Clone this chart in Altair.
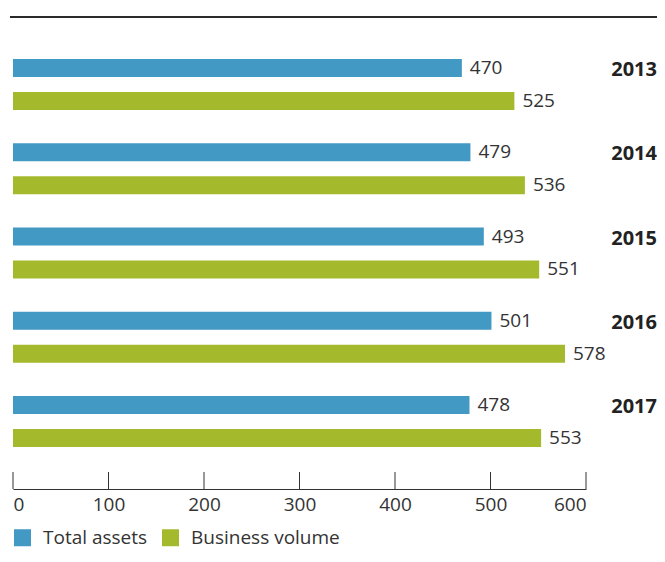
import altair as alt
import pandas as pd

years = ["2013", "2014", "2015", "2016", "2017"]
total_assets = [470, 479, 493, 501, 478]
business_volume = [525, 536, 551, 578, 553]
series_names = ["Total assets", "Business volume"]
series_colors = ["#4299c4", "#a4b92c"]
tick_values = [0, 100, 200, 300, 400, 500, 600]

rows = []
for y, a, b in zip(years, total_assets, business_volume):
    rows.append({"year": y, "series": series_names[0], "value": a})
    rows.append({"year": y, "series": series_names[1], "value": b})
df = pd.DataFrame(rows)
df_years = pd.DataFrame({"year": years, "series": [series_names[0]] * len(years)})
df_ticks = pd.DataFrame({"t": tick_values})

FONT = "Open Sans"
TXT = "#333333"
W, H = 573, 472

y_enc = alt.Y("year:N", sort=years, axis=None,
              scale=alt.Scale(paddingInner=0, paddingOuter=0.3))
yoff_enc = alt.YOffset("series:N", sort=series_names,
                       scale=alt.Scale(paddingInner=0.4545, paddingOuter=0.5045))
x_scale = alt.Scale(domain=[0, 600], nice=False)

bars = alt.Chart(df).mark_bar().encode(
    x=alt.X("value:Q", scale=x_scale,
            axis=alt.Axis(values=tick_values, title=None, grid=False, ticks=False,
                          domainColor=TXT, domainWidth=1.2, labelFontSize=19,
                          labelFont=FONT, labelColor=TXT, labelPadding=6)),
    y=y_enc,
    yOffset=yoff_enc,
    color=alt.Color("series:N", sort=series_names,
                    scale=alt.Scale(domain=series_names, range=series_colors),
                    legend=alt.Legend(orient="none", legendX=0, legendY=511,
                                      direction="horizontal", title=None,
                                      symbolType="square", symbolSize=289,
                                      symbolStrokeWidth=0, labelFontSize=19,
                                      labelFont=FONT, labelColor=TXT,
                                      labelOffset=11, columnPadding=13)),
)

values = alt.Chart(df).mark_text(align="left", baseline="middle", dx=8,
                                 fontSize=19, font=FONT, color=TXT).encode(
    x=alt.X("value:Q", scale=x_scale),
    y=y_enc,
    yOffset=yoff_enc,
    text=alt.Text("value:Q"),
)

year_labels = alt.Chart(df_years).mark_text(align="right", baseline="middle",
                                            fontSize=20, font=FONT, fontWeight="bold",
                                            color="#222222", dy=2).encode(
    x=alt.value(644),
    y=y_enc,
    yOffset=yoff_enc,
    text="year:N",
)

ticks = alt.Chart(df_ticks).mark_rule(color=TXT, strokeWidth=1).encode(
    x=alt.X("t:Q", scale=x_scale),
    y=alt.value(H - 17),
    y2=alt.value(H),
)

top_rule = alt.Chart(pd.DataFrame({"a": [0]})).mark_rule(
    color="#2a2a2a", strokeWidth=2).encode(
    x=alt.value(-3), x2=alt.value(644), y=alt.value(0)
)

chart = alt.layer(top_rule, bars, values, year_labels, ticks).properties(
    width=W, height=H,
    autosize=alt.AutoSizeParams(type="none"),
    padding={"left": 5, "top": 9, "right": 71, "bottom": 65},
).configure_view(stroke=None)

chart.save("out.html", embed_options={"renderer": "svg", "actions": False})
